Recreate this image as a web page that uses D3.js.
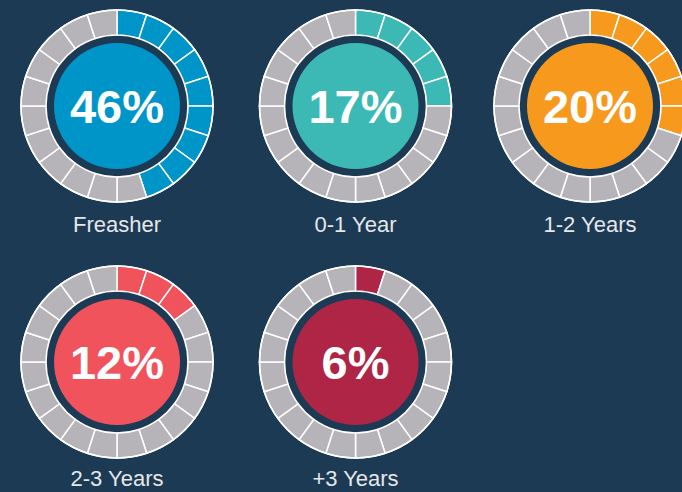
<!DOCTYPE html>
<html>
<head>
<meta charset="utf-8">
<script src="https://cdn.jsdelivr.net/npm/d3@7"></script>
<style>
  html, body { margin: 0; padding: 0; background: #1c3a54; }
  svg { display: block; }
</style>
</head>
<body>
<div id="chart"></div>
<script>
// data
const labels = ["Freasher", "0-1 Year", "1-2 Years", "2-3 Years", "+3 Years"];
const percents = [46, 17, 20, 12, 6];
const filledSegments = [9, 5, 6, 3, 1]; // coloured blocks out of 20
const colors = ["#0095c9", "#3db9b5", "#f7991c", "#f1535d", "#ae2546"];
const segmentCount = 20;

const width = 682, height = 492;
const bg = "#1c3a54";

const svg = d3.select("#chart").append("svg")
    .attr("width", width)
    .attr("height", height);

svg.append("rect")
    .attr("width", width)
    .attr("height", height)
    .attr("fill", bg);

// grid placement: 3 per row
const colX = d3.scaleOrdinal().domain([0, 1, 2]).range([117, 355.5, 590]);
const rowY = d3.scalePoint().domain([0, 1]).range([106, 362]);

const rOuter = 96, rInner = 71, rCore = 63;

const arc = d3.arc()
    .innerRadius(rInner)
    .outerRadius(rOuter);

const angle = d3.scaleLinear().domain([0, segmentCount]).range([0, 2 * Math.PI]);

const cells = labels.map((label, i) => ({
    label: label,
    pct: percents[i],
    filled: filledSegments[i],
    color: colors[i],
    col: i % 3,
    row: Math.floor(i / 3)
}));

const g = svg.selectAll("g.donut")
    .data(cells)
    .enter().append("g")
    .attr("class", "donut")
    .attr("transform", d => `translate(${colX(d.col)},${rowY(d.row)})`);

// ring of blocks
g.selectAll("path")
    .data(d => d3.range(segmentCount).map(k => ({ k: k, on: k < d.filled, color: d.color })))
    .enter().append("path")
    .attr("d", s => arc({ startAngle: angle(s.k), endAngle: angle(s.k + 1) }))
    .attr("fill", s => s.on ? s.color : "#b6b4b8")
    .attr("stroke", "#ffffff")
    .attr("stroke-width", 1.5);

// outer white rim
g.append("circle")
    .attr("r", rOuter)
    .attr("fill", "none")
    .attr("stroke", "#ffffff")
    .attr("stroke-width", 1.5);

// coloured core
g.append("circle")
    .attr("r", rCore)
    .attr("fill", d => d.color);

g.append("text")
    .attr("text-anchor", "middle")
    .attr("y", 17)
    .attr("fill", "#ffffff")
    .style("font-family", "'Liberation Sans', Arial, sans-serif")
    .style("font-weight", "bold")
    .style("font-size", "47px")
    .text(d => d.pct + "%");

g.append("text")
    .attr("text-anchor", "middle")
    .attr("y", d => d.row === 0 ? 126 : 124)
    .attr("fill", "#e6e7e9")
    .style("font-family", "'Liberation Sans', Arial, sans-serif")
    .style("font-size", "22px")
    .text(d => d.label);
</script>
</body>
</html>
